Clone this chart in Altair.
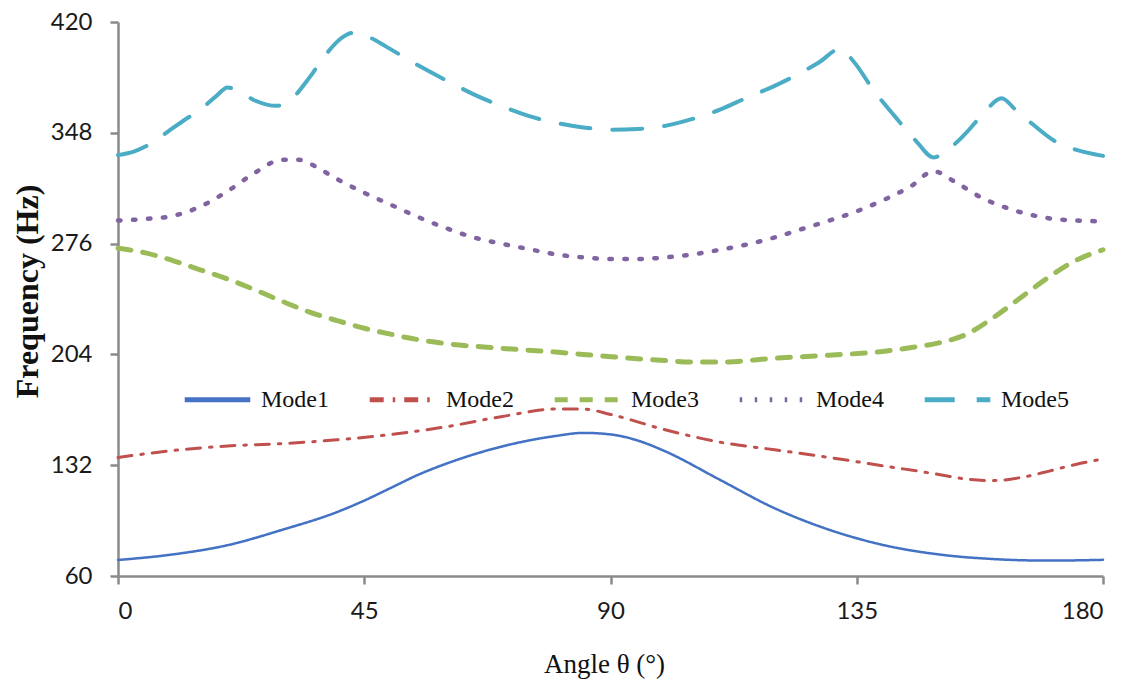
import altair as alt
import pandas as pd

modes = ["Mode1", "Mode2", "Mode3", "Mode4", "Mode5"]
colors = ["#4472C4", "#C0504D", "#9BBB59", "#8064A2", "#4BACC6"]

mode1_angle = [0, 10, 20, 30, 40, 45, 50, 55, 60, 70, 80, 85, 90, 95, 100, 110, 120, 130, 140, 150, 160, 170, 180]
mode1_freq = [70.4, 74, 80, 90, 101.5, 109, 117.5, 126, 133, 144, 151, 153, 152, 148, 141, 122.5, 104, 90, 80, 74, 71, 70, 70.5]

mode2_angle = [0, 10, 20, 30, 40, 50, 60, 70, 80, 85, 90, 100, 110, 120, 130, 140, 150, 155, 160, 165, 170, 175, 180]
mode2_freq = [137, 141.5, 144.5, 146, 148.5, 152, 157, 163.5, 168.5, 168.5, 165, 155, 147, 142, 137, 131.5, 126, 123, 122, 124, 128, 132.5, 136]

mode3_angle = [0, 5, 10, 15, 20, 25, 30, 35, 40, 45, 50, 55, 60, 70, 80, 90, 100, 105, 110, 120, 130, 140, 145, 150, 155, 160, 165, 170, 175, 180]
mode3_freq = [273, 270, 265, 259, 253, 246, 238.5, 231.5, 226, 221, 217, 213.5, 211, 208, 205.5, 202.5, 200, 199, 199, 201.5, 203.5, 206, 208.5, 211.5, 217, 228, 241, 254, 265, 272]

mode4_angle = [0, 5, 10, 15, 20, 25, 30, 33, 35, 40, 45, 50, 55, 60, 65, 70, 75, 80, 85, 90, 95, 100, 105, 110, 115, 120, 125, 130, 135, 140, 145, 149, 153, 158, 163, 170, 175, 180]
mode4_freq = [291, 292, 294, 300, 310, 322, 330.5, 330.5, 328, 318, 309, 301, 293, 286, 280, 276, 272.5, 269, 267, 266, 266, 267, 269, 272, 275.5, 280, 285.5, 291, 297, 304.5, 313.5, 323, 316, 305.5, 298.5, 292.5, 291, 290.5]

mode5_angle = [0, 3, 6, 9, 12, 15, 18, 20, 22, 25, 29, 32, 35, 38, 41, 43, 46, 49, 55, 60, 65, 70, 75, 80, 85, 90, 95, 100, 105, 110, 115, 120, 125, 128, 132, 134.5, 138, 142, 146, 149, 152, 155, 158, 161.5, 164, 167, 171, 175, 180]
mode5_freq = [333.5, 336, 341, 348.5, 356, 363, 372, 377.5, 375, 369, 365.5, 371, 384, 399, 410, 413, 410, 404, 391.5, 382, 373, 365.5, 359, 354.5, 351.5, 350, 350.5, 352.5, 357, 363, 371, 378.5, 387.5, 393.5, 402.5, 394, 376, 358.5, 342, 332, 338, 348, 360, 370.5, 363, 354, 343, 337, 333]

x_ticks = [0, 45, 90, 135, 180]
y_ticks = [60, 132, 204, 276, 348, 420]

series = [
    ("Mode1", mode1_angle, mode1_freq),
    ("Mode2", mode2_angle, mode2_freq),
    ("Mode3", mode3_angle, mode3_freq),
    ("Mode4", mode4_angle, mode4_freq),
    ("Mode5", mode5_angle, mode5_freq),
]
rows = []
for name, angs, fr in series:
    for a, f in zip(angs, fr):
        rows.append({"mode": name, "angle": a, "freq": f})
df = pd.DataFrame(rows)

dashes = [[1, 0], [14, 9, 2.5, 9], [13, 12], [2.5, 12.5], [30, 22]]
widths = {"Mode1": 2.5, "Mode2": 3, "Mode3": 5, "Mode4": 4.5, "Mode5": 4}

legend = alt.Legend(
    title=None,
    orient="none",
    legendX=64,
    legendY=342,
    direction="horizontal",
    columns=5,
    columnPadding=30,
    symbolType="stroke",
    symbolSize=4300,
    symbolStrokeWidth=5,
    labelFont="Liberation Serif",
    labelFontSize=24,
    labelColor="#111111",
    labelOffset=8,
    padding=0,
)

x_enc = alt.X(
    "angle:Q",
    scale=alt.Scale(domain=[0, 180], nice=False, zero=False),
    axis=alt.Axis(
        values=x_ticks,
        title="Angle  θ (°)",
        titleFont="Liberation Serif",
        titleFontSize=27,
        titleFontWeight="normal",
        titleColor="#111111",
        titleX=486,
        titleY=96,
        titleBaseline="alphabetic",
        labelPadding=15,
    ),
)
y_enc = alt.Y(
    "freq:Q",
    scale=alt.Scale(domain=[60, 420], nice=False, zero=False),
    axis=alt.Axis(
        values=y_ticks,
        title="Frequency  (Hz)",
        titleFont="Liberation Serif",
        titleFontSize=32,
        titleFontWeight="bold",
        titleColor="#111111",
        titleAngle=270,
        titleX=-81,
        titleY=269,
        titleAlign="center",
        titleBaseline="alphabetic",
        labelPadding=18,
    ),
)
color_enc = alt.Color("mode:N", scale=alt.Scale(domain=modes, range=colors), legend=legend)
dash_enc = alt.StrokeDash("mode:N", scale=alt.Scale(domain=modes, range=dashes), legend=legend)

layers = []
for m in modes:
    layers.append(
        alt.Chart(df)
        .transform_filter(alt.datum.mode == m)
        .mark_line(interpolate="monotone", strokeCap="round", strokeWidth=widths[m])
        .encode(x=x_enc, y=y_enc, color=color_enc, strokeDash=dash_enc)
    )

chart = (
    alt.layer(*layers)
    .properties(
        width=985,
        height=554,
        autosize=alt.AutoSizeParams(type="none"),
        padding={"left": 110, "top": 14, "right": 20, "bottom": 110},
    )
    .configure_view(stroke=None)
    .configure_axis(
        grid=False,
        domainColor="#8a8a8a",
        domainWidth=2.5,
        tickColor="#8a8a8a",
        tickWidth=2.5,
        tickSize=8,
        labelFont="Lato",
        labelFontSize=24,
        labelColor="#1a1a1a",
    )
)

chart.save("out.html", embed_options={"renderer": "svg", "actions": False})
